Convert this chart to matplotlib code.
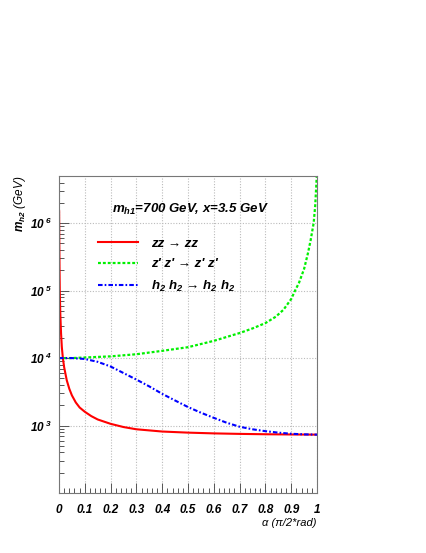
import matplotlib

matplotlib.use("Agg")
import matplotlib.pyplot as plt
from matplotlib.lines import Line2D
from matplotlib.ticker import FixedLocator, LogLocator, NullFormatter, MultipleLocator

plt.rcParams["font.family"] = ["Liberation Sans", "DejaVu Sans"]
plt.rcParams["font.weight"] = "bold"
plt.rcParams["font.style"] = "italic"
plt.rcParams["mathtext.fontset"] = "custom"
plt.rcParams["mathtext.rm"] = "Liberation Sans:bold:italic"
plt.rcParams["mathtext.it"] = "Liberation Sans:bold:italic"
plt.rcParams["mathtext.bf"] = "Liberation Sans:bold:italic"

# values
alpha_zz = [0.0005, 0.001, 0.002, 0.003, 0.005, 0.008, 0.011, 0.015, 0.02,
            0.03, 0.04, 0.05, 0.065, 0.08, 0.1, 0.125, 0.15, 0.2, 0.25, 0.3,
            0.4, 0.5, 0.6, 0.7, 0.8, 0.9, 1.0]
m_zz = [1.5e6, 6e5, 2.2e5, 1.0e5, 4.6e4, 2.3e4, 1.45e4, 1.0e4, 7.3e3,
        4.7e3, 3.5e3, 2.8e3, 2.2e3, 1.85e3, 1.6e3, 1.38e3, 1.23e3, 1.06e3,
        950, 880, 815, 785, 765, 752, 743, 737, 733]

alpha_zp = [0.0, 0.05, 0.1, 0.15, 0.2, 0.3, 0.4, 0.5, 0.6, 0.7, 0.75, 0.8,
            0.84, 0.87, 0.9, 0.915, 0.93, 0.95, 0.965, 0.975, 0.987, 0.993,
            0.997, 1.0]
m_zp = [1.0e4, 1.0e4, 1.02e4, 1.04e4, 1.06e4, 1.14e4, 1.28e4, 1.45e4, 1.8e4,
        2.35e4, 2.75e4, 3.3e4, 4.1e4, 5.2e4, 7.5e4, 1.0e5, 1.3e5, 2.1e5,
        3.6e5, 5.5e5, 1.0e6, 1.8e6, 3.5e6, 6e6]

alpha_hh = [0.0, 0.05, 0.1, 0.15, 0.2, 0.25, 0.3, 0.35, 0.4, 0.45, 0.5, 0.55,
            0.6, 0.65, 0.7, 0.75, 0.8, 0.85, 0.9, 0.95, 1.0]
m_hh = [1.0e4, 1.0e4, 9.7e3, 8.8e3, 7.5e3, 6.0e3, 4.8e3, 3.8e3, 2.95e3,
        2.35e3, 1.88e3, 1.55e3, 1.3e3, 1.1e3, 960, 880, 825, 785, 755, 740,
        733]

labels = ["zz → zz",
          "z' z' → z' z'",
          r"$h_{2}\ h_{2}$ → $h_{2}\ h_{2}$"]
x_ticks = [0, 0.1, 0.2, 0.3, 0.4, 0.5, 0.6, 0.7, 0.8, 0.9, 1]
x_ticklabels = ["0", "0.1", "0.2", "0.3", "0.4", "0.5", "0.6", "0.7", "0.8", "0.9", "1"]
y_ticks = [1e3, 1e4, 1e5, 1e6]
y_ticklabels = [r"$10^{\ 3}$", r"$10^{\ 4}$", r"$10^{\ 5}$", r"$10^{\ 6}$"]

RED = "#ff0000"
GREEN = "#00f000"
BLUE = "#0000ff"
ZP_STYLE = (0, (1.3, 0.9))
HH_STYLE = (0, (2.2, 1.0, 0.8, 1.0))

fig = plt.figure(figsize=(4.27, 5.53), dpi=100)
ax = fig.add_axes([59 / 427, 1 - 493 / 553, 258 / 427, 317 / 553])

ax.plot(alpha_zz, m_zz, color=RED, lw=1.5, ls="-")
ax.plot(alpha_zp, m_zp, color=GREEN, lw=1.6, ls=ZP_STYLE)
ax.plot(alpha_hh, m_hh, color=BLUE, lw=1.5, ls=HH_STYLE)

ax.set_yscale("log")
ax.set_xlim(0, 1)
ax.set_ylim(100, 5e6)

ax.xaxis.set_major_locator(FixedLocator(x_ticks))
ax.set_xticklabels(x_ticklabels)
ax.xaxis.set_minor_locator(MultipleLocator(0.02))
ax.yaxis.set_major_locator(FixedLocator(y_ticks))
ax.set_yticklabels(y_ticklabels)
ax.yaxis.set_minor_locator(LogLocator(base=10, subs=range(2, 10)))
ax.yaxis.set_minor_formatter(NullFormatter())

ax.tick_params(which="both", direction="in", top=False, right=False,
               color="#555555", width=0.7)
ax.tick_params(axis="x", which="major", length=7, pad=8, labelsize=8.5)
ax.tick_params(axis="y", which="major", length=7, pad=5, labelsize=8.5)
ax.tick_params(which="minor", length=3.5)

ax.grid(True, which="major", color="#bbbbbb", ls=(0, (1, 1.5)), lw=0.8)
for sp in ax.spines.values():
    sp.set_color("#777777")
    sp.set_linewidth(0.8)

ax.set_xlabel("α (π/2*rad)", fontsize=8, loc="right")
ax.xaxis.set_label_coords(1.0, -0.08)
ax.set_ylabel(r"$m_{h2}$ (GeV)", fontsize=8.5, loc="top")
ax.yaxis.set_label_coords(-0.122, 1.0)

ax.text(0.204, 0.896, r"$m_{h1}$=700 GeV, x=3.5 GeV", transform=ax.transAxes,
        fontsize=9.5, ha="left", va="center")

handles = [Line2D([], [], color=RED, lw=1.5, ls="-"),
           Line2D([], [], color=GREEN, lw=1.6, ls=ZP_STYLE),
           Line2D([], [], color=BLUE, lw=1.5, ls=HH_STYLE)]
ax.legend(handles, labels, loc="upper left", bbox_to_anchor=(0.151, 0.805),
          frameon=False, fontsize=9.5, handlelength=3.0, handletextpad=1.0,
          labelspacing=0.62, borderpad=0, borderaxespad=0)

fig.savefig("out.png", dpi=100)
